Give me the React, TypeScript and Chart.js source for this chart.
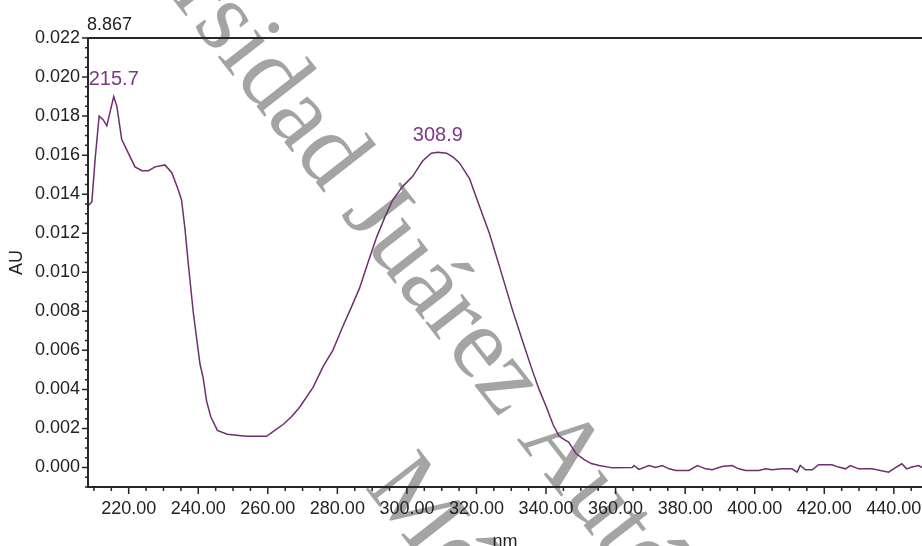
import React, { useEffect, useRef } from 'react';
import { Chart, registerables } from 'chart.js';

Chart.register(...registerables);

// ---- data ----
const wavelengths = [
  208.3, 209.4, 210.4, 211.5, 212.7, 213.7, 215.7, 216.6, 218.0, 219.9,
  221.8, 223.8, 225.7, 227.6, 230.4, 232.4, 234.3, 235.2, 236.2, 237.1,
  238.6, 240.5, 241.4, 242.4, 243.6, 245.5, 248.3, 251.0, 254.0, 257.0,
  259.6, 262.0, 264.4, 266.8, 269.2, 273.0, 276.0, 278.7, 281.5, 284.0,
  286.4, 289.0, 291.3, 293.6, 295.9, 298.8, 301.6, 304.5, 307.0, 308.9,
  311.4, 313.3, 315.1, 318.0, 320.0, 323.7, 326.6, 330.3, 333.2, 336.0,
  338.0, 340.1, 342.0, 343.8, 345.5, 346.5, 348.7, 351.0, 353.0, 355.3,
  359.1, 364.8, 365.3, 366.7, 369.6, 371.5, 373.4, 375.4, 377.3, 381.1,
  383.5, 385.9, 387.8, 390.6, 393.5, 395.4, 397.4, 401.2, 403.1, 405.0,
  407.9, 410.7, 412.2, 413.1, 414.6, 416.5, 418.4, 422.2, 424.1, 426.1,
  427.5, 429.9, 433.7, 438.5, 439.9, 442.3, 443.7, 445.2, 447.1, 448.1,
];
const absorbance = [
  0.0134, 0.0136, 0.0159, 0.0180, 0.0178, 0.0175, 0.0190, 0.0185, 0.0168, 0.0161,
  0.0154, 0.0152, 0.0152, 0.0154, 0.0155, 0.0151, 0.0142, 0.0137, 0.0122, 0.0105,
  0.0079, 0.0053, 0.0046, 0.0034, 0.0026, 0.0019, 0.0017, 0.00165, 0.0016, 0.0016,
  0.0016, 0.0019, 0.0022, 0.0026, 0.0031, 0.0041, 0.0052, 0.0060, 0.0072, 0.0082,
  0.0092, 0.0106, 0.0118, 0.0128, 0.0137, 0.0144, 0.0149, 0.0157, 0.0161, 0.01615,
  0.0161, 0.0159, 0.0156, 0.0148, 0.0138, 0.0120, 0.0103, 0.0081, 0.0065, 0.0050,
  0.0040, 0.0031, 0.0022, 0.0016, 0.0014, 0.0013, 0.0007, 0.0004, 0.0002, 0.0001,
  -0.00002, 0.0000, 0.0001, -0.0001, 0.0001, 0.0000, 0.0001, -0.00007, -0.00015, -0.00015,
  0.0001, -0.00007, -0.00012, 0.00005, 0.0001, -0.00007, -0.00015, -0.00015, -0.00007, -0.00012,
  -0.00007, -0.00007, -0.00024, 0.0001, -0.00012, -0.00012, 0.00014, 0.00014, 0.00002, -0.00007,
  0.0001, -0.00007, -0.00007, -0.00024, -0.00007, 0.00019, -0.00007, 0.00002, 0.0001, 0.0000,
];

const xTickValues = [220, 240, 260, 280, 300, 320, 340, 360, 380, 400, 420, 440];
const xMinorTickValues = [210, 215, 225, 230, 235, 245, 250, 255, 265, 270, 275, 285, 290, 295, 305, 310, 315, 325, 330, 335, 345, 350, 355, 365, 370, 375, 385, 390, 395, 405, 410, 415, 425, 430, 435, 445];
const yTickValues = [0, 0.002, 0.004, 0.006, 0.008, 0.01, 0.012, 0.014, 0.016, 0.018, 0.02, 0.022];
const yMinorTickValues = [-0.001, -0.0005, 0.0005, 0.001, 0.0015, 0.0025, 0.003, 0.0035, 0.0045, 0.005, 0.0055, 0.0065, 0.007, 0.0075, 0.0085, 0.009, 0.0095, 0.0105, 0.011, 0.0115, 0.0125, 0.013, 0.0135, 0.0145, 0.015, 0.0155, 0.0165, 0.017, 0.0175, 0.0185, 0.019, 0.0195, 0.0205, 0.021, 0.0215];

const peakWavelengths = [215.7, 308.9];
const peakAbsorbance = [0.0190, 0.01615];
const peakLabels = ['215.7', '308.9'];

const headerLabel = '8.867';
const xTitle = 'nm';
const yTitle = 'AU';
const watermarkLine1 = 'Universidad Juárez Autónoma de Tabasco';
const watermarkLine1Prefix = 'Univer';
const watermarkLine2 = 'México';

const X_MIN = 208.3;
const X_MAX = 448.1;
const Y_MIN = -0.001;
const Y_MAX = 0.022;

const SANS = "'Liberation Sans', Arial, sans-serif";
const AXIS_COLOR = '#262626';
const LINE_COLOR = '#6e2f70';
const PEAK_COLOR = '#7d3688';

const decorPlugin = {
  id: 'decor',
  beforeDraw(chart: any) {
    const ctx = chart.ctx as CanvasRenderingContext2D;
    ctx.save();
    ctx.font = "102px 'Liberation Serif', 'DejaVu Serif', serif";
    ctx.fillStyle = '#a4a4a4';
    ctx.textAlign = 'left';
    ctx.textBaseline = 'alphabetic';
    const ang = (52 * Math.PI) / 180;
    const ux = Math.cos(ang);
    const uy = Math.sin(ang);
    const pre = ctx.measureText(watermarkLine1Prefix).width;
    ctx.save();
    ctx.translate(192 - ux * pre, 24 - uy * pre);
    ctx.rotate(ang);
    ctx.fillText(watermarkLine1, 0, 0);
    ctx.restore();
    ctx.save();
    ctx.translate(364, 487);
    ctx.rotate(ang);
    ctx.fillText(watermarkLine2, 0, 0);
    ctx.restore();
    ctx.restore();
  },
  afterDatasetsDraw(chart: any) {
    const ctx = chart.ctx as CanvasRenderingContext2D;
    const xs = chart.scales.x;
    const ys = chart.scales.y;
    const { left, right, top, bottom } = chart.chartArea;
    ctx.save();
    ctx.strokeStyle = AXIS_COLOR;
    ctx.lineWidth = 2;
    ctx.beginPath();
    ctx.moveTo(left, top);
    ctx.lineTo(right, top);
    ctx.moveTo(left, top - 1);
    ctx.lineTo(left, bottom);
    ctx.lineTo(right, bottom);
    ctx.stroke();

    ctx.lineWidth = 1.5;
    ctx.beginPath();
    xTickValues.forEach((v) => {
      const px = xs.getPixelForValue(v);
      ctx.moveTo(px, bottom);
      ctx.lineTo(px, bottom + 7);
    });
    xMinorTickValues.forEach((v) => {
      const px = xs.getPixelForValue(v);
      ctx.moveTo(px, bottom);
      ctx.lineTo(px, bottom + 4);
    });
    yTickValues.forEach((v) => {
      const py = ys.getPixelForValue(v);
      ctx.moveTo(left - 6, py);
      ctx.lineTo(left, py);
    });
    yMinorTickValues.forEach((v) => {
      const py = ys.getPixelForValue(v);
      ctx.moveTo(left - 3, py);
      ctx.lineTo(left, py);
    });
    ctx.stroke();

    // header value
    ctx.fillStyle = '#222';
    ctx.font = `18px ${SANS}`;
    ctx.textAlign = 'left';
    ctx.textBaseline = 'middle';
    ctx.fillText(headerLabel, left - 1, top - 13);

    // peak labels
    ctx.fillStyle = PEAK_COLOR;
    ctx.font = `20px ${SANS}`;
    ctx.textAlign = 'center';
    peakWavelengths.forEach((w, i) => {
      const px = xs.getPixelForValue(w);
      const py = ys.getPixelForValue(peakAbsorbance[i]);
      ctx.fillText(peakLabels[i], px, py - 17);
    });
    ctx.restore();
  },
};

export default function App() {
  const ref = useRef<HTMLCanvasElement | null>(null);

  useEffect(() => {
    if (!ref.current) return;
    const chart = new Chart(ref.current, {
      type: 'line',
      data: {
        datasets: [
          {
            data: wavelengths.map((x, i) => ({ x, y: absorbance[i] })),
            borderColor: LINE_COLOR,
            borderWidth: 1.5,
            pointRadius: 0,
            tension: 0,
            fill: false,
          },
        ],
      },
      options: {
        animation: false,
        responsive: false,
        maintainAspectRatio: false,
        events: [],
        layout: { padding: { top: 38, right: 0, bottom: 0, left: 0 } },
        plugins: { legend: { display: false }, tooltip: { enabled: false }, title: { display: false } },
        scales: {
          x: {
            type: 'linear',
            min: X_MIN,
            max: X_MAX,
            grid: { display: false, drawTicks: false },
            border: { display: false },
            afterBuildTicks: (scale: any) => {
              scale.ticks = xTickValues.map((value) => ({ value }));
            },
            afterFit: (scale: any) => {
              scale.height = 59;
              scale.paddingLeft = 0;
              scale.paddingRight = 0;
            },
            ticks: {
              autoSkip: false,
              maxRotation: 0,
              padding: 11,
              color: '#222',
              font: { family: SANS, size: 18 },
              callback: (v: any) => Number(v).toFixed(2),
            },
            title: {
              display: true,
              text: xTitle,
              color: '#222',
              font: { family: SANS, size: 18 },
              padding: { top: 0, bottom: -7 },
            },
          },
          y: {
            type: 'linear',
            min: Y_MIN,
            max: Y_MAX,
            grid: { display: false, drawTicks: false },
            border: { display: false },
            afterBuildTicks: (scale: any) => {
              scale.ticks = yTickValues.map((value) => ({ value }));
            },
            afterFit: (scale: any) => {
              scale.width = 88;
              scale.paddingTop = 0;
              scale.paddingBottom = 0;
            },
            ticks: {
              autoSkip: false,
              padding: 8,
              color: '#222',
              font: { family: SANS, size: 18 },
              callback: (v: any) => Number(v).toFixed(3),
            },
            title: {
              display: true,
              text: yTitle,
              color: '#222',
              font: { family: SANS, size: 18 },
              padding: { top: 6, bottom: 0 },
            },
          },
        },
      },
      plugins: [decorPlugin],
    });
    return () => chart.destroy();
  }, []);

  return (
    <div style={{ position: 'fixed', left: 0, top: 0, width: 922, height: 546, background: '#fff' }}>
      <canvas ref={ref} width={922} height={546} style={{ display: 'block' }} />
    </div>
  );
}
